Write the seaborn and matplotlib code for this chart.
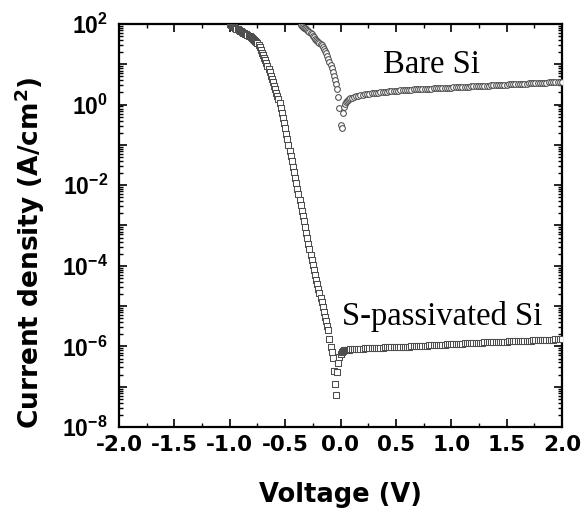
import numpy as np
import pandas as pd
import matplotlib
matplotlib.use("Agg")
import matplotlib.pyplot as plt
import matplotlib.ticker as mticker
import seaborn as sns

# ---------------- data ----------------
# Voltage sweep segments: start voltage and step (V); values are log10(J / A cm^-2)
seg1_step = 0.01
seg2_start, seg2_step = 0.10, 0.02

# S-passivated Si, -1.00 V ... 0.09 V (0.01 V steps)
s_pass_start = -1.00
s_pass_logj1 = [
    2.00, 1.98, 1.96, 1.94, 1.92, 1.90, 1.885, 1.87, 1.85, 1.835,
    1.82, 1.80, 1.785, 1.77, 1.755, 1.74, 1.72, 1.705, 1.69, 1.67,
    1.65, 1.63, 1.61, 1.59, 1.56, 1.52, 1.48, 1.42, 1.35, 1.28,
    1.22, 1.16, 1.10, 1.03, 0.96, 0.88, 0.80, 0.72, 0.64, 0.56,
    0.47, 0.39, 0.30, 0.22, 0.13, 0.04, -0.08, -0.21, -0.33, -0.46,
    -0.59, -0.72, -0.86, -1.00, -1.14, -1.27, -1.41, -1.54, -1.68, -1.82,
    -1.95, -2.09, -2.22, -2.36, -2.50, -2.63, -2.77, -2.90, -3.04, -3.18,
    -3.31, -3.45, -3.58, -3.72, -3.86, -3.99, -4.11, -4.22, -4.34, -4.45,
    -4.57, -4.68, -4.80, -4.91, -5.03, -5.14, -5.26, -5.37, -5.49, -5.60,
    -5.82, -6.02, -6.15, -6.30, -6.62, -6.93, -7.20, -6.63, -6.40, -6.27,
    -6.19, -6.14, -6.11, -6.10, -6.09, -6.09, -6.08, -6.08, -6.08, -6.07,
]
# S-passivated Si, 0.10 V ... 2.00 V (0.02 V steps)
s_pass_logj2 = [
    -6.070, -6.066, -6.063, -6.060, -6.057, -6.054, -6.051, -6.048, -6.045, -6.042,
    -6.039, -6.036, -6.033, -6.030, -6.028, -6.026, -6.024, -6.022, -6.020, -6.018,
    -6.016, -6.014, -6.012, -6.010, -6.008, -6.006, -6.003, -6.000, -5.997, -5.994,
    -5.991, -5.988, -5.985, -5.982, -5.979, -5.976, -5.973, -5.970, -5.967, -5.964,
    -5.961, -5.958, -5.955, -5.952, -5.949, -5.946, -5.943, -5.940, -5.937, -5.934,
    -5.931, -5.928, -5.925, -5.922, -5.919, -5.916, -5.913, -5.910, -5.907, -5.905,
    -5.903, -5.900, -5.898, -5.896, -5.893, -5.891, -5.889, -5.886, -5.884, -5.882,
    -5.879, -5.877, -5.875, -5.872, -5.870, -5.868, -5.865, -5.863, -5.861, -5.858,
    -5.856, -5.854, -5.851, -5.849, -5.847, -5.844, -5.842, -5.840, -5.837, -5.835,
    -5.833, -5.830, -5.828, -5.826, -5.823, -5.821,
]

# Bare Si, -0.36 V ... 0.09 V (0.01 V steps)
bare_start = -0.36
bare_logj1 = [
    1.98, 1.95, 1.93, 1.91, 1.89, 1.87, 1.85, 1.83, 1.80, 1.77,
    1.74, 1.70, 1.67, 1.64, 1.61, 1.58, 1.56, 1.53, 1.50, 1.48,
    1.44, 1.39, 1.34, 1.28, 1.21, 1.14, 1.06, 0.98, 0.90, 0.81,
    0.71, 0.61, 0.50, 0.38, 0.20, -0.08, -0.50, -0.58, -0.20, -0.06,
    0.01, 0.06, 0.09, 0.12, 0.14, 0.16,
]
# Bare Si, 0.10 V ... 2.00 V (0.02 V steps)
bare_logj2 = [
    0.175, 0.190, 0.205, 0.218, 0.230, 0.241, 0.251, 0.260, 0.269, 0.277,
    0.285, 0.292, 0.299, 0.305, 0.311, 0.317, 0.323, 0.329, 0.334, 0.339,
    0.344, 0.349, 0.354, 0.358, 0.362, 0.366, 0.369, 0.372, 0.375, 0.378,
    0.381, 0.384, 0.387, 0.390, 0.393, 0.395, 0.398, 0.401, 0.404, 0.407,
    0.410, 0.413, 0.416, 0.419, 0.422, 0.424, 0.427, 0.430, 0.433, 0.436,
    0.439, 0.442, 0.445, 0.447, 0.450, 0.453, 0.456, 0.459, 0.462, 0.465,
    0.468, 0.470, 0.473, 0.476, 0.479, 0.482, 0.485, 0.488, 0.490, 0.493,
    0.496, 0.499, 0.502, 0.505, 0.508, 0.511, 0.513, 0.516, 0.519, 0.522,
    0.525, 0.528, 0.531, 0.534, 0.536, 0.539, 0.542, 0.545, 0.548, 0.551,
    0.554, 0.557, 0.559, 0.562, 0.565, 0.568,
]

x_ticks = [-2.0, -1.5, -1.0, -0.5, 0.0, 0.5, 1.0, 1.5, 2.0]
x_tick_labels = ["-2.0", "-1.5", "-1.0", "-0.5", "0.0", "0.5", "1.0", "1.5", "2.0"]
y_labelled_exponents = [2, 0, -2, -4, -6, -8]
label_bare = "Bare Si"
label_spass = "S-passivated Si"
x_label = "Voltage (V)"
y_label = r"Current density (A/cm$^{\mathbf{2}}$)"


def sweep(start, step, n):
    return np.round(start + step * np.arange(n), 3)


def series(start1, logj1, logj2):
    v = np.concatenate([sweep(start1, seg1_step, len(logj1)),
                        sweep(seg2_start, seg2_step, len(logj2))])
    j = 10.0 ** np.concatenate([np.asarray(logj1), np.asarray(logj2)])
    return pd.DataFrame({"V": v, "J": j})


df_spass = series(s_pass_start, s_pass_logj1, s_pass_logj2)
df_bare = series(bare_start, bare_logj1, bare_logj2)

# ---------------- figure ----------------
sns.set_style("ticks")
plt.rcParams["font.family"] = ["DejaVu Sans"]
plt.rcParams["text.color"] = "black"
plt.rcParams["axes.labelcolor"] = "black"
plt.rcParams["xtick.color"] = "black"
plt.rcParams["ytick.color"] = "black"
plt.rcParams["axes.edgecolor"] = "black"
plt.rcParams["mathtext.fontset"] = "custom"
plt.rcParams["mathtext.rm"] = "Liberation Sans"
plt.rcParams["mathtext.bf"] = "Liberation Sans:bold"
plt.rcParams["mathtext.it"] = "Liberation Sans:italic"

fig = plt.figure(figsize=(5.85, 5.12), dpi=100)
ax = fig.add_axes([119 / 585, 85 / 512, 443 / 585, 403 / 512])

edge = "#4d4d4d"
sns.scatterplot(data=df_spass, x="V", y="J", marker="s", s=13, color="white",
                edgecolor=edge, linewidth=0.75, ax=ax, legend=False, zorder=3)
sns.scatterplot(data=df_bare, x="V", y="J", marker="o", s=17, color="white",
                edgecolor=edge, linewidth=0.75, ax=ax, legend=False, zorder=3)

ax.set_yscale("log")
ax.set_xlim(-2.0, 2.0)
ax.set_ylim(1e-8, 1e2)

# x ticks
ax.set_xticks(x_ticks)
ax.set_xticklabels(x_tick_labels, fontsize=15.5, fontweight="bold", family="DejaVu Sans",
                   color="black")
ax.xaxis.set_minor_locator(mticker.MultipleLocator(0.25))

# y ticks
ax.yaxis.set_major_locator(mticker.LogLocator(base=10, numticks=20))
ax.yaxis.set_minor_locator(mticker.LogLocator(base=10, subs=np.arange(2, 10), numticks=20))
ax.yaxis.set_minor_formatter(mticker.NullFormatter())


def yfmt(val, pos):
    e = int(round(np.log10(val)))
    return r"$\mathbf{10^{%d}}$" % e if e in y_labelled_exponents else ""


ax.yaxis.set_major_formatter(mticker.FuncFormatter(yfmt))

ax.tick_params(which="both", direction="in", top=True, right=True, color="black")
ax.tick_params(which="major", length=5.5, width=1.2)
ax.tick_params(which="minor", length=3.0, width=1.0)
ax.tick_params(axis="x", which="major", pad=5.5, labelcolor="black")
ax.tick_params(axis="y", which="major", pad=8, labelsize=16.5, labelcolor="black")

for sp in ax.spines.values():
    sp.set_linewidth(1.6)
    sp.set_color("black")

ax.set_xlabel(x_label, fontsize=18.5, fontweight="bold", family="DejaVu Sans", color="black")
ax.xaxis.set_label_coords(0.5, -0.136)
ax.set_ylabel(y_label, fontsize=19, fontweight="bold", family="DejaVu Sans",
              math_fontfamily="dejavusans", color="black")
ax.yaxis.set_label_coords(-0.1625, 0.432)

ax.text(0.384, 10 ** 0.784, label_bare, fontsize=23.5, family="Liberation Serif",
        va="baseline", ha="left", color="black")
ax.text(0.011, 10 ** -5.469, label_spass, fontsize=23.5, family="Liberation Serif",
        va="baseline", ha="left", color="black")

fig.savefig("out.png", dpi=100)
